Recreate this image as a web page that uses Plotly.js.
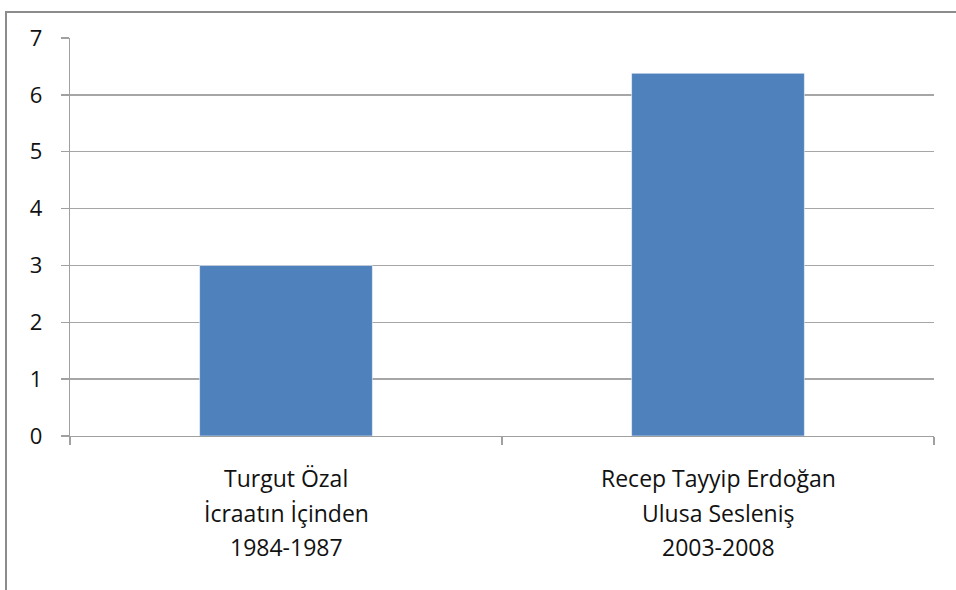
<!DOCTYPE html>
<html>
<head>
<meta charset="utf-8">
<script src="https://cdn.plot.ly/plotly-3.0.1.min.js"></script>
<style>
html,body{margin:0;padding:0;background:#fff;}
#wrap{position:relative;width:956px;height:590px;}
#chart{width:956px;height:590px;}
#frame{position:absolute;left:5px;top:11px;width:960px;height:600px;border-left:2px solid #8c8c8c;border-top:2px solid #8c8c8c;pointer-events:none;}
</style>
</head>
<body>
<div id="wrap"><div id="chart"></div><div id="frame"></div></div>
<script>
const categories = ["Turgut Özal|İcraatın İçinden|1984-1987", "Recep Tayyip Erdoğan|Ulusa Sesleniş|2003-2008"];
const values = [3, 6.38];
const yTicks = [0, 1, 2, 3, 4, 5, 6, 7];

const font = "Open Sans, Noto Sans, sans-serif";
const annotations = [];
categories.forEach(function(c){
  c.split("|").forEach(function(line, i){
    annotations.push({
      x: c, xref: "x", y: 0, yref: "y", yanchor: "middle", xanchor: "center",
      yshift: -42 - i * 34.5, text: line, showarrow: false,
      font: {family: font, size: 23, color: "#111"}
    });
  });
});

Plotly.newPlot("chart", [{
  type: "bar", x: categories, y: values,
  marker: {color: "#4F81BD", line: {color: "rgba(255,255,255,0.55)", width: 1}},
  hoverinfo: "none"
}], {
  width: 956, height: 590,
  margin: {l: 70, r: 22, t: 38, b: 154},
  paper_bgcolor: "#fff", plot_bgcolor: "#fff",
  bargap: 0.6,
  showlegend: false,
  xaxis: {type: "category", showticklabels: false, ticks: "outside", tickson: "boundaries",
          ticklen: 8, tickcolor: "#a0a0a0", tickwidth: 1.3, showline: true, linecolor: "#a0a0a0",
          linewidth: 1.3, showgrid: false, zeroline: false, fixedrange: true},
  yaxis: {range: [0, 7], tickvals: yTicks, ticks: "outside", ticklen: 8, tickcolor: "#a0a0a0",
          tickwidth: 1.3, showline: true, linecolor: "#a0a0a0", linewidth: 1.3,
          gridcolor: "#a6a6a6", gridwidth: 1.3, zeroline: false, ticklabelstandoff: 14,
          tickfont: {family: font, size: 22, color: "#111"}, fixedrange: true},
  annotations: annotations
}, {displayModeBar: false, staticPlot: true});
</script>
</body>
</html>
